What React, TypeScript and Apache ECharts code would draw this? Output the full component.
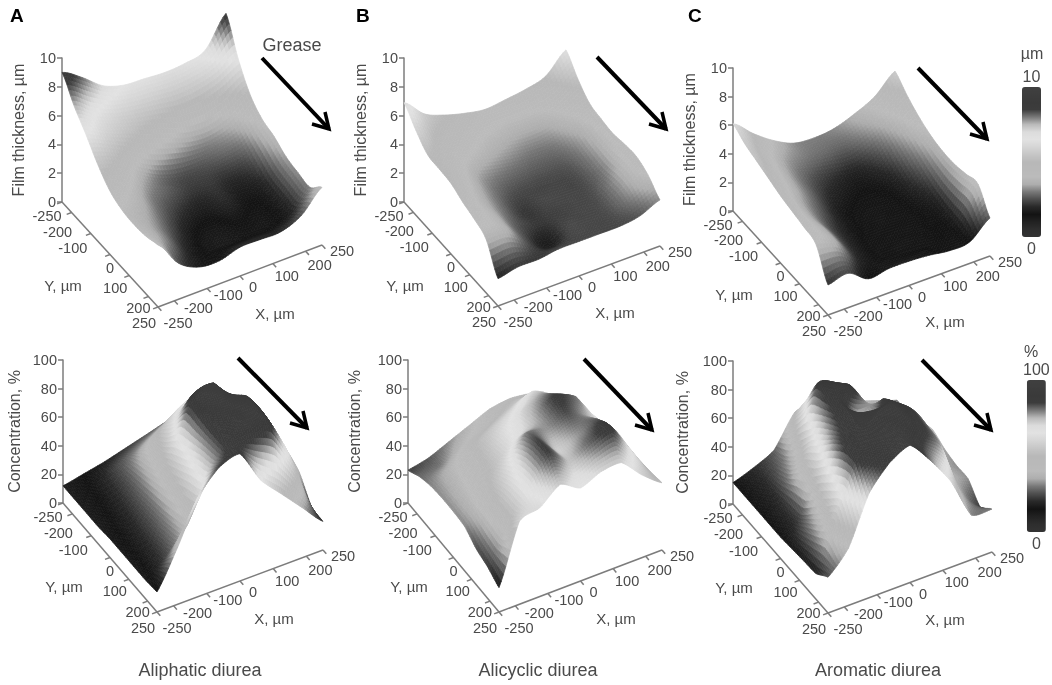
import React, { useEffect, useRef } from "react";
import * as echarts from "echarts";

// ---- data: surface heights, rows are Y = -250..250, columns are X = -250..250
const FILM_ALIPHATIC = [
  [9.0, 8.1, 7.0, 6.5, 6.4, 6.3, 6.4, 6.8, 8.8],
  [7.6, 6.6, 6.0, 5.7, 5.5, 5.3, 5.4, 5.8, 6.6],
  [6.5, 5.8, 5.2, 4.6, 4.1, 3.6, 3.5, 4.0, 5.0],
  [5.3, 4.8, 3.8, 3.0, 2.6, 2.6, 2.8, 3.1, 4.2],
  [4.4, 4.0, 3.1, 2.6, 2.2, 2.2, 2.0, 2.4, 3.9],
  [4.0, 3.6, 2.7, 2.0, 1.7, 2.0, 1.6, 1.9, 3.4],
  [3.9, 3.3, 2.3, 1.5, 1.3, 1.6, 1.4, 1.8, 3.2],
  [4.0, 3.1, 1.9, 1.4, 1.3, 1.4, 1.4, 1.8, 3.1],
  [4.3, 2.5, 1.7, 1.6, 2.0, 2.0, 2.0, 2.6, 4.0],
];
const FILM_ALICYCLIC = [
  [6.9, 5.6, 5.0, 4.6, 4.35, 4.5, 4.7, 5.1, 6.4],
  [5.9, 4.9, 4.5, 4.2, 4.0, 3.9, 4.0, 4.4, 5.3],
  [5.1, 4.5, 4.1, 3.7, 3.4, 3.2, 3.3, 3.9, 4.5],
  [5.0, 4.3, 3.4, 3.0, 2.8, 2.7, 2.8, 3.4, 4.3],
  [4.9, 4.0, 3.1, 2.5, 2.4, 2.4, 2.5, 3.2, 4.2],
  [4.5, 3.8, 2.9, 2.2, 2.4, 2.4, 2.45, 3.1, 4.35],
  [4.2, 3.8, 2.7, 2.2, 2.3, 2.4, 2.5, 3.3, 4.4],
  [3.7, 3.6, 2.5, 1.7, 2.4, 2.4, 2.5, 3.2, 4.0],
  [1.9, 2.2, 2.2, 2.4, 2.4, 2.4, 2.4, 2.6, 3.2],
];
const FILM_AROMATIC = [
  [6.1, 4.9, 3.9, 3.2, 3.05, 3.2, 3.7, 4.4, 5.66],
  [5.6, 4.4, 3.4, 3.0, 2.8, 2.7, 3.2, 3.9, 4.9],
  [5.3, 4.1, 3.1, 2.4, 2.0, 1.8, 2.4, 3.4, 4.3],
  [5.0, 3.9, 2.9, 2.0, 1.6, 1.5, 1.8, 2.9, 3.9],
  [4.7, 3.6, 2.6, 1.7, 1.4, 1.4, 1.6, 2.4, 3.7],
  [4.5, 3.5, 2.3, 1.6, 1.4, 1.4, 1.5, 2.0, 3.7],
  [4.3, 3.6, 2.2, 1.5, 1.4, 1.4, 1.5, 1.8, 3.9],
  [4.0, 3.5, 2.0, 1.5, 1.4, 1.4, 1.5, 1.7, 4.1],
  [2.1, 2.4, 1.5, 1.7, 1.7, 1.6, 1.4, 1.5, 2.65],
];
const CONC_ALIPHATIC = [
  [12, 15, 18, 22, 26, 30, 30, 28, 22],
  [12, 16, 24, 31, 38, 46, 40, 34, 28],
  [12, 17, 26, 42, 57, 65, 55, 45, 30],
  [12, 18, 28, 48, 72, 80, 70, 55, 40],
  [13, 19, 30, 56, 92, 95, 74, 62, 38],
  [13, 20, 32, 62, 90, 94, 90, 66, 40],
  [13, 21, 35, 68, 88, 92, 92, 66, 35],
  [13, 24, 40, 72, 88, 92, 88, 60, 21],
  [14, 40, 70, 85, 89, 65, 50, 35, 20],
];
const CONC_ALICYCLIC = [
  [23, 26, 32, 38, 44, 46, 44, 38, 25],
  [28, 30, 38, 44, 50, 55, 52, 44, 27],
  [31, 38, 48, 55, 62, 70, 62, 46, 33],
  [32, 40, 50, 62, 72, 78, 68, 50, 40],
  [32, 42, 52, 66, 76, 86, 80, 58, 45],
  [31, 44, 60, 80, 78, 84, 76, 64, 44],
  [25, 46, 66, 85, 72, 78, 83, 62, 44],
  [22, 46, 68, 85, 74, 82, 88, 66, 45],
  [17, 58, 62, 73, 65, 71, 72, 58, 47],
];
const CONC_AROMATIC = [
  [15, 20, 27, 48, 50, 45, 40, 35, 30],
  [15, 20, 32, 66, 60, 48, 42, 36, 30],
  [15, 21, 42, 88, 80, 58, 48, 42, 34],
  [15, 23, 58, 90, 90, 68, 55, 45, 38],
  [15, 25, 68, 92, 70, 85, 65, 42, 34],
  [16, 35, 79, 93, 92, 92, 80, 40, 32],
  [17, 45, 87, 92, 92, 92, 80, 40, 32],
  [18, 55, 88, 92, 94, 88, 78, 38, 22],
  [25, 40, 73, 89, 96, 80, 60, 31, 30],
];

const FILM_TICKS_MAX = 10;
const CONC_TICKS_MAX = 100;
const FILM_TICK_STEP = 2;
const CONC_TICK_STEP = 20;
const X_TICKS = [-250, -200, -100, 0, 100, 200, 250];
const Y_TICKS = [-250, -200, -100, 0, 100, 200, 250];
const CAPTIONS = ["Aliphatic diurea", "Alicyclic diurea", "Aromatic diurea"];
const PANEL_LETTERS = ["A", "B", "C"];

// Gray colour scale of the legends, from 0 to the maximum
const SCALE_COLORS = [
  "#333333", "#2e2e2e", "#222222", "#131313", "#282828", "#4d4d4d", "#777777",
  "#adadad", "#bbbbbb", "#b9b9b9", "#b8b8b8", "#c6c6c6", "#d5d5d5", "#e2e2e2",
  "#dcdcdc", "#bababa", "#787878", "#3c3c3c", "#3a3a3a", "#3d3d3d", "#404040",
];

// ---- layout
type Panel = {
  grid: number[][]; o: number[]; u: number[]; v: number[]; top: number; bottom: number;
  max: number; step: number; name: string; gap: number; arrow: number[]; sub: number; curve: number;
};
const FONT = "Liberation Sans";
const TEXT = "#4a4a4a";
const AXIS = "#7c7c7c";
const panels: Panel[] = [
  { grid: FILM_ALIPHATIC, o: [62, 202], u: [164, -62], v: [96, 105], top: 58, bottom: 202, max: FILM_TICKS_MAX, step: FILM_TICK_STEP, name: "Film thickness, µm", gap: 36, arrow: [262, 58, 330, 130], sub: 7, curve: 1 },
  { grid: FILM_ALICYCLIC, o: [404, 202], u: [162, -60], v: [94, 104], top: 58, bottom: 202, max: FILM_TICKS_MAX, step: FILM_TICK_STEP, name: "Film thickness, µm", gap: 36, arrow: [597, 57, 667, 130], sub: 7, curve: 1 },
  { grid: FILM_AROMATIC, o: [733, 211], u: [162, -59], v: [95, 104], top: 68, bottom: 211, max: FILM_TICKS_MAX, step: FILM_TICK_STEP, name: "Film thickness, µm", gap: 36, arrow: [918, 68, 988, 140], sub: 7, curve: 1 },
  { grid: CONC_ALIPHATIC, o: [63, 503], u: [166, -62], v: [94, 109], top: 360, bottom: 503, max: CONC_TICKS_MAX, step: CONC_TICK_STEP, name: "Concentration, %", gap: 41, arrow: [238, 358, 308, 429], sub: 9, curve: 0.5 },
  { grid: CONC_ALICYCLIC, o: [408, 503], u: [163, -62], v: [91, 109], top: 360, bottom: 503, max: CONC_TICKS_MAX, step: CONC_TICK_STEP, name: "Concentration, %", gap: 46, arrow: [584, 359, 653, 431], sub: 9, curve: 0.5 },
  { grid: CONC_AROMATIC, o: [733, 504], u: [164, -61], v: [95, 109], top: 361, bottom: 504, max: CONC_TICKS_MAX, step: CONC_TICK_STEP, name: "Concentration, %", gap: 43, arrow: [922, 360, 992, 431], sub: 9, curve: 0.5 },
];
const Y_LABEL_OFFSETS = [[-15, 14], [-14, 19], [-18, 14], [0, 13], [-14, 12], [-10, 11], [-14, 16]];
const X_LABEL_OFFSETS = [[20, 16], [24, 7], [21, 7], [13, 11], [14, 12], [14, 14], [20, 6]];
const CAPTION_X = [200, 538, 878];
const LETTER_X = [10, 356, 688];

function project(p: Panel, t: number, s: number, z: number): number[] {
  const k = (p.bottom - p.top) / p.max;
  return [p.o[0] + t * p.u[0] + s * p.v[0], p.o[1] + t * p.u[1] + s * p.v[1] - z * k];
}

// Catmull-Rom weights for drawing a smooth sheet through the read values
function weights(a: number): number[] {
  return [
    -0.5 * a + a * a - 0.5 * a * a * a,
    1 - 2.5 * a * a + 1.5 * a * a * a,
    0.5 * a + 2 * a * a - 1.5 * a * a * a,
    -0.5 * a * a + 0.5 * a * a * a,
  ];
}

// Splits every cell of the height grid into small quads, back to front.
function buildQuads(p: Panel): number[][] {
  const grid = p.grid;
  const n = grid.length - 1;
  const at = (i: number, j: number) => grid[Math.max(0, Math.min(n, i))][Math.max(0, Math.min(n, j))];
  const h = (t: number, s: number) => {
    const ft = t * n, fs = s * n;
    const i = Math.min(n - 1, Math.floor(fs + 1e-9)), j = Math.min(n - 1, Math.floor(ft + 1e-9));
    const a = ft - j, b = fs - i;
    const wt = weights(a), ws = weights(b);
    let cubic = 0;
    for (let r = 0; r < 4; r++) for (let c = 0; c < 4; c++) cubic += ws[r] * wt[c] * at(i + r - 1, j + c - 1);
    const flat = (at(i, j) * (1 - a) + at(i, j + 1) * a) * (1 - b) + (at(i + 1, j) * (1 - a) + at(i + 1, j + 1) * a) * b;
    return Math.max(0, cubic * p.curve + flat * (1 - p.curve));
  };
  const m = n * p.sub;
  const out: number[][] = [];
  for (let r = 0; r < m; r++) {
    for (let c = m - 1; c >= 0; c--) {
      const t0 = c / m, t1 = (c + 1) / m, s0 = r / m, s1 = (r + 1) / m;
      const z00 = h(t0, s0), z10 = h(t1, s0), z11 = h(t1, s1), z01 = h(t0, s1);
      out.push([t0, s0, t1, s1, z00, z10, z11, z01, (z00 + z10 + z11 + z01) / 4]);
    }
  }
  return out;
}

function buildOption(): any {
  const grids: any[] = [{ left: 0, top: 0, width: 1052, height: 685 }];
  const xAxes: any[] = [{ gridIndex: 0, type: "value", min: 0, max: 1052, show: false }];
  const yAxes: any[] = [{ gridIndex: 0, type: "value", min: 0, max: 685, inverse: true, show: false }];
  const surfaces: any[] = [];
  const floors: any[] = [];
  const graphics: any[] = [];

  panels.forEach((p, idx) => {
    grids.push({ left: p.o[0], top: p.top, width: 1, height: p.bottom - p.top });
    xAxes.push({ gridIndex: idx + 1, type: "value", show: false, min: 0, max: 1 });
    yAxes.push({
      gridIndex: idx + 1, type: "value", min: 0, max: p.max, interval: p.step, position: "left",
      name: p.name, nameLocation: "middle", nameGap: p.gap, nameRotate: 90,
      nameTextStyle: { fontFamily: FONT, fontSize: 16, color: TEXT },
      axisLine: { show: true, onZero: false, lineStyle: { color: AXIS, width: 1.5 } },
      axisTick: { show: true, length: 5, lineStyle: { color: AXIS, width: 1.5 } },
      axisLabel: { margin: 6, fontFamily: FONT, fontSize: 14.5, color: TEXT },
      splitLine: { show: false },
    });

    surfaces.push({
      type: "custom", name: p.name + " " + idx, coordinateSystem: "cartesian2d", xAxisIndex: 0, yAxisIndex: 0,
      clip: false, silent: true, animation: false, progressive: 0,
      encode: { x: 0, y: 1 }, dimensions: ["t0", "s0", "t1", "s1", "z00", "z10", "z11", "z01", "z"],
      data: buildQuads(p),
      renderItem: (_: any, api: any) => {
        const t0 = api.value(0), s0 = api.value(1), t1 = api.value(2), s1 = api.value(3);
        const pts = [
          project(p, t0, s0, api.value(4)), project(p, t1, s0, api.value(5)),
          project(p, t1, s1, api.value(6)), project(p, t0, s1, api.value(7)),
        ].map((q) => api.coord(q));
        const color = api.visual("color");
        return { type: "polygon", shape: { points: pts }, style: { fill: color, stroke: color, lineWidth: 0.7 } };
      },
    });

    const ticks: number[][] = [];
    Y_TICKS.forEach((v, i) => ticks.push([0, v, i]));
    X_TICKS.forEach((v, i) => ticks.push([1, v, i]));
    floors.push({
      type: "custom", coordinateSystem: "cartesian2d", xAxisIndex: 0, yAxisIndex: 0, clip: false, silent: true,
      encode: { x: 1, y: 2 }, data: ticks, z: 1,
      renderItem: (_: any, api: any) => {
        const kind = api.value(0), val = api.value(1), i = api.value(2);
        const f = (val + 250) / 500;
        const base = kind === 0 ? project(p, 0, f, 0) : project(p, f, 1, 0);
        const dir = kind === 0 ? [-p.u[0] * 0.03, -p.u[1] * 0.03] : [p.v[0] * 0.035, p.v[1] * 0.035];
        const off = (kind === 0 ? Y_LABEL_OFFSETS : X_LABEL_OFFSETS)[i];
        const a = api.coord(base), b = api.coord([base[0] + dir[0], base[1] + dir[1]]);
        const c = api.coord([base[0] + off[0], base[1] + off[1]]);
        const children: any[] = [
          { type: "line", shape: { x1: a[0], y1: a[1], x2: b[0], y2: b[1] }, style: { stroke: AXIS, lineWidth: 1.5 } },
          { type: "text", x: c[0], y: c[1], style: { text: String(val), fontFamily: FONT, fontSize: 14.5, fill: TEXT, align: "center", verticalAlign: "middle" } },
        ];
        if (i === 0) {
          const e = kind === 0 ? api.coord(project(p, 0, 1, 0)) : api.coord(project(p, 1, 1, 0));
          children.push({ type: "line", shape: { x1: a[0], y1: a[1], x2: e[0], y2: e[1] }, style: { stroke: AXIS, lineWidth: 1.5 } });
        }
        return { type: "group", children };
      },
    });

    // axis titles
    const front = project(p, 0, 1, 0);
    graphics.push(
      { type: "text", x: p.o[0] + 1, y: p.o[1] + 83, style: { text: "Y, µm", fontFamily: FONT, fontSize: 15, fill: TEXT, align: "center", verticalAlign: "middle" } },
      { type: "text", x: front[0] + 117, y: front[1] + 6, style: { text: "X, µm", fontFamily: FONT, fontSize: 15, fill: TEXT, align: "center", verticalAlign: "middle" } },
    );
    // grease-flow arrow
    const [ax, ay, bx, by] = p.arrow;
    graphics.push(
      { type: "line", shape: { x1: ax, y1: ay, x2: bx - 1, y2: by - 1 }, style: { stroke: "#000", lineWidth: 4 } },
      { type: "polyline", shape: { points: [[bx - 18, by - 6], [bx - 1, by - 1], [bx - 5, by - 18]] }, style: { stroke: "#000", lineWidth: 3.5, fill: "none" } },
    );
  });

  CAPTIONS.forEach((c, i) => {
    graphics.push({ type: "text", x: CAPTION_X[i], y: 670, style: { text: c, fontFamily: FONT, fontSize: 18, fill: TEXT, align: "center", verticalAlign: "middle" } });
  });
  PANEL_LETTERS.forEach((c, i) => {
    graphics.push({ type: "text", x: LETTER_X[i], y: 15, style: { text: c, fontFamily: FONT, fontSize: 19, fontWeight: "bold", fill: "#000", align: "left", verticalAlign: "middle" } });
  });
  graphics.push(
    { type: "text", x: 292, y: 45, style: { text: "Grease", fontFamily: FONT, fontSize: 18, fill: TEXT, align: "center", verticalAlign: "middle" } },
    { type: "text", x: 1032, y: 53, style: { text: "µm", fontFamily: FONT, fontSize: 16, fill: TEXT, align: "center", verticalAlign: "middle" } },
    { type: "text", x: 1031, y: 351, style: { text: "%", fontFamily: FONT, fontSize: 16, fill: TEXT, align: "center", verticalAlign: "middle" } },
  );

  const legend = (seriesIndex: number[], max: number, top: number, left: number, height: number) => ({
    type: "continuous", seriesIndex, dimension: 8, min: 0, max, orient: "vertical", left, top,
    itemWidth: 19, itemHeight: height, calculable: false, realtime: false, hoverLink: false,
    text: [String(max), "0"], textGap: 3, padding: 0,
    textStyle: { fontFamily: FONT, fontSize: 16, color: TEXT },
    inRange: { color: SCALE_COLORS },
  });

  return {
    animation: false,
    backgroundColor: "#fff",
    grid: grids,
    xAxis: xAxes,
    yAxis: yAxes,
    visualMap: [legend([0, 1, 2], FILM_TICKS_MAX, 68, 1022, 150), legend([3, 4, 5], CONC_TICKS_MAX, 361, 1023, 152)],
    series: [...surfaces, ...floors],
    graphic: { elements: graphics },
  };
}

export default function App() {
  const ref = useRef<HTMLDivElement>(null);
  useEffect(() => {
    const chart = echarts.init(ref.current!, undefined, { renderer: "svg" });
    chart.setOption(buildOption());
    return () => chart.dispose();
  }, []);
  return <div ref={ref} style={{ position: "absolute", left: 0, top: 0, width: 1052, height: 685, filter: "blur(0.4px)" }} />;
}
